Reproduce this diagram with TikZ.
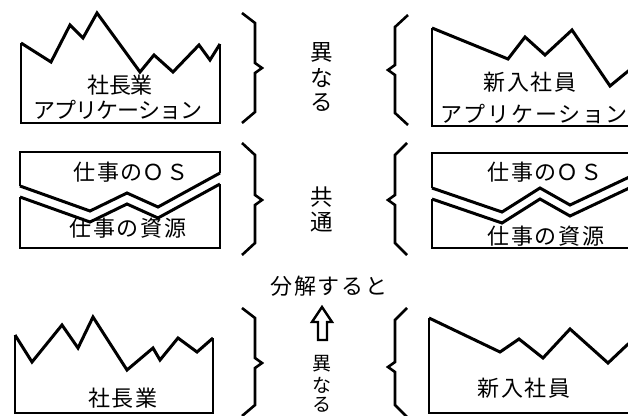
\documentclass[tikz,border=0pt]{standalone}
\usepackage{fontspec}
\newfontfamily\jpA[LetterSpace=8]{Noto Sans CJK JP}
\newfontfamily\jpB[LetterSpace=-4]{Noto Sans CJK JP}
\newfontfamily\jpC{Noto Sans CJK JP}
\tikzset{
  edge/.style={line width=1.8pt, line join=miter},
  zig/.style={line width=3pt, line join=miter, line cap=butt},
  brace/.style={line width=2.6pt, line join=miter},
  wide/.style={inner sep=0pt, font=\jpA\fontsize{22}{24}\selectfont},
  narrow/.style={inner sep=0pt, font=\jpB\fontsize{22}{24}\selectfont},
  vert/.style={inner sep=0pt, font=\jpC\fontsize{22.5}{24}\selectfont},
  vertsm/.style={inner sep=0pt, font=\jpC\fontsize{19}{20}\selectfont},
  upar/.style={line width=2.4pt, line join=miter}
}
\begin{document}
\begin{tikzpicture}[x=1pt,y=-1pt]
\useasboundingbox (0,0) rectangle (628,415);
\clip (0,0) rectangle (628,415);
% ---------- top left: 社長業アプリケーション
\draw[edge] (220,44) -- (220,123) -- (21,123) -- (21,43);
\draw[zig] (21,43) -- (51,62) -- (70,25) -- (83,38) -- (97,13) -- (140,72) -- (154,55) -- (173,72) -- (199,45) -- (210,60) -- (220,44);
\node[narrow] (tl1) at (120,85) {社長業};
\node[narrow] (tl2) at (118,110) {アプリケーション};
% ---------- top right
\draw[edge] (432,28) -- (432,126) -- (640,126);
\draw[zig] (432,28) -- (508,59) -- (525,37) -- (545,55) -- (572,30) -- (610,86) -- (627,72) -- (640,62);
\node[wide] (tr1) at (530,82) {新入社員};
\node[wide] (tr2) at (534,114) {アプリケーション};
% ---------- middle left
\draw[edge] (220,173) -- (220,152) -- (20,152) -- (20,186);
\draw[zig] (20,186) -- (90,211) -- (127,193) -- (158,207) -- (220,173);
\draw[edge] (220,184) -- (220,248) -- (20,248) -- (20,197);
\draw[zig] (20,197) -- (90,222) -- (127,204) -- (158,218) -- (220,184);
\node[wide] (ml1) at (131,172) {仕事の\hbox{ＯＳ}};
\node[wide] (ml2) at (128,228) {仕事の資源};
% ---------- middle right
\draw[edge] (432,188) -- (432,153) -- (640,153);
\draw[zig] (432,188) -- (502,212) -- (540,188) -- (570,205) -- (623,180) -- (640,172);
\draw[edge] (432,199) -- (432,248) -- (640,248);
\draw[zig] (432,199) -- (502,223) -- (540,199) -- (570,216) -- (623,191) -- (640,183);
\node[wide] (mr1) at (545,172) {仕事の\hbox{ＯＳ}};
\node[wide] (mr2) at (546,236) {仕事の資源};
% ---------- bottom left
\draw[edge] (213,338) -- (213,413) -- (15,413) -- (15,335);
\draw[zig] (15,335) -- (32,362) -- (62,325) -- (78,348) -- (93,317) -- (127,370) -- (153,348) -- (160,360) -- (178,338) -- (197,352) -- (213,338);
\node[wide] (bl1) at (123,398) {社長業};
% ---------- bottom right
\draw[edge] (429,318) -- (429,413) -- (640,413);
\draw[zig] (429,318) -- (500,352) -- (519,339) -- (543,358) -- (570,329) -- (608,363) -- (627,345) -- (640,335);
\node[wide] (br1) at (524,388) {新入社員};
% ---------- braces
\draw[brace] (242,13) -- (255,23) -- (255,63) -- (262,68) -- (255,73) -- (255,112) -- (242,123);
\draw[brace] (242,143) -- (255,155) -- (255,195) -- (262,200) -- (255,205) -- (255,243) -- (242,255);
\draw[brace] (242,308) -- (255,318) -- (255,358) -- (262,363) -- (255,368) -- (255,405) -- (242,416);
\draw[brace] (408,15) -- (395,27) -- (395,65) -- (388,70) -- (395,75) -- (395,113) -- (408,125);
\draw[brace] (407,143) -- (395,155) -- (395,195) -- (388,200) -- (395,205) -- (395,243) -- (407,255);
\draw[brace] (407,308) -- (395,320) -- (395,362) -- (388,367) -- (395,372) -- (395,405) -- (407,417);
% ---------- centre texts
\node[vert] (c1a) at (322,52) {異};
\node[vert] (c1b) at (322,78) {な};
\node[vert] (c1c) at (322,102) {る};
\node[vert] (c2a) at (322,197) {共};
\node[vert] (c2b) at (322,222) {通};
\node[wide] (c3) at (329,286) {分解すると};
\node[vertsm] (c4a) at (322,364) {異};
\node[vertsm] (c4b) at (322,385) {な};
\node[vertsm] (c4c) at (322,405) {る};
% ---------- up arrow
\draw[upar] (322,307) -- (332,322) -- (327,322) -- (327,340) -- (318,340) -- (318,322) -- (312,322) -- cycle;
\end{tikzpicture}
\end{document}
